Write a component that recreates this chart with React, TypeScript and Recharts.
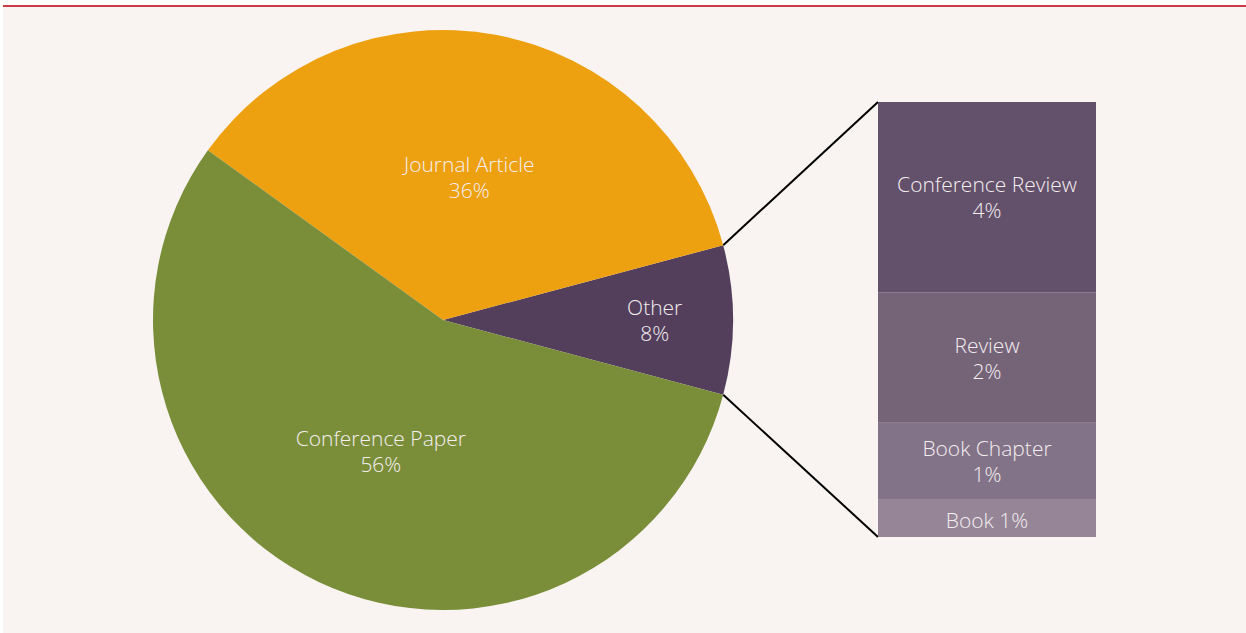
import { PieChart, Pie, Cell, BarChart, Bar, XAxis, YAxis } from "recharts";

// main pie: share of document types (%)
const pieNames = ["Other", "Journal Article", "Conference Paper"];
const pieValues = [8.3, 35.9, 55.8];
const pieColors = ["#533f5c", "#eda010", "#7a8e3a"];

// breakdown of "Other" (bottom to top in the stack)
const otherNames = ["Book", "Book Chapter", "Review", "Conference Review"];
const otherValues = [0.7, 1.4, 2.4, 3.5];
const otherColors = ["#958597", "#837388", "#756378", "#63506a"];

const FONT = "'Open Sans', sans-serif";
const TEXT_FILL = "#f4eef0";

const CX = 443;
const CY = 320;
const R = 290;
const BAR_LEFT = 878;
const BAR_TOP = 102;
const BAR_W = 218;
const BAR_H = 435;

const pieData = pieNames.map((name, i) => ({ name, value: pieValues[i] }));
const total = pieValues.reduce((a, b) => a + b, 0);
// center the "Other" slice on the right side
const startAngle = -((pieValues[0] / total) * 360) / 2;

const barRow: { [key: string]: string | number } = { cat: "Other" };
otherNames.forEach((n, i) => {
  barRow[n] = otherValues[i];
});
const otherTotal = otherValues.reduce((a, b) => a + b, 0);

const RAD = Math.PI / 180;

const renderPieLabel = (props: any) => {
  const { cx, cy, midAngle, outerRadius, index } = props;
  const ratio = index === 0 ? 0.73 : 0.5; // small slice: push label outward
  const x = cx + outerRadius * ratio * Math.cos(-midAngle * RAD);
  const y = cy + outerRadius * ratio * Math.sin(-midAngle * RAD);
  return (
    <text
      x={x}
      y={y}
      textAnchor="middle"
      fill={TEXT_FILL}
      fontFamily={FONT}
      fontWeight={300}
      fontSize={21}
    >
      <tspan x={x} dy={-5}>{pieNames[index]}</tspan>
      <tspan x={x} dy={26}>{Math.round(pieValues[index])}%</tspan>
    </text>
  );
};

const makeBarLabel = (i: number) => (props: any) => {
  const { x, y, width, height } = props;
  const mx = x + width / 2;
  const my = y + height / 2;
  const pct = Math.round(otherValues[i]) + "%";
  const common = {
    textAnchor: "middle" as const,
    fill: TEXT_FILL,
    fontFamily: FONT,
    fontWeight: 300,
    fontSize: 21,
  };
  if (height < 50) {
    return (
      <text x={mx} y={my + 10} {...common}>
        {otherNames[i]} {pct}
      </text>
    );
  }
  return (
    <text x={mx} y={my} {...common}>
      <tspan x={mx} dy={-5}>{otherNames[i]}</tspan>
      <tspan x={mx} dy={26}>{pct}</tspan>
    </text>
  );
};

export default function App() {
  const half = ((pieValues[0] / total) * 360) / 2;
  const topPt = { x: CX + R * Math.cos(half * RAD), y: CY - R * Math.sin(half * RAD) };
  const botPt = { x: CX + R * Math.cos(half * RAD), y: CY + R * Math.sin(half * RAD) };

  return (
    <div style={{ position: "absolute", left: 0, top: 0, width: 1246, height: 633, background: "#ffffff", overflow: "hidden" }}>
      <div style={{ position: "absolute", left: 3, top: 7, width: 1243, height: 626, background: "#f9f4f1" }} />
      <div style={{ position: "absolute", left: 3, top: 5, width: 1243, height: 2, background: "#cc3a45" }} />

      <svg width={1246} height={633} style={{ position: "absolute", left: 0, top: 0 }}>
        <line x1={topPt.x} y1={topPt.y} x2={BAR_LEFT} y2={BAR_TOP} stroke="#000" strokeWidth={2} />
        <line x1={botPt.x} y1={botPt.y} x2={BAR_LEFT} y2={BAR_TOP + BAR_H} stroke="#000" strokeWidth={2} />
      </svg>

      <div style={{ position: "absolute", left: 0, top: 0 }}>
        <PieChart width={1246} height={633} margin={{ top: 0, right: 0, bottom: 0, left: 0 }}>
          <Pie
            data={pieData}
            dataKey="value"
            nameKey="name"
            cx={CX}
            cy={CY}
            outerRadius={R}
            startAngle={startAngle}
            endAngle={startAngle + 360}
            stroke="none"
            label={renderPieLabel}
            labelLine={false}
            isAnimationActive={false}
          >
            {pieData.map((d, i) => (
              <Cell key={d.name} fill={pieColors[i]} />
            ))}
          </Pie>
        </PieChart>
      </div>

      <div style={{ position: "absolute", left: BAR_LEFT, top: BAR_TOP }}>
        <BarChart
          width={BAR_W}
          height={BAR_H}
          data={[barRow]}
          margin={{ top: 0, right: 0, bottom: 0, left: 0 }}
          barCategoryGap={0}
        >
          <XAxis dataKey="cat" hide />
          <YAxis hide domain={[0, otherTotal]} />
          {otherNames.map((n, i) => (
            <Bar
              key={n}
              dataKey={n}
              stackId="other"
              fill={otherColors[i]}
              label={makeBarLabel(i)}
              isAnimationActive={false}
            />
          ))}
        </BarChart>
      </div>
    </div>
  );
}
